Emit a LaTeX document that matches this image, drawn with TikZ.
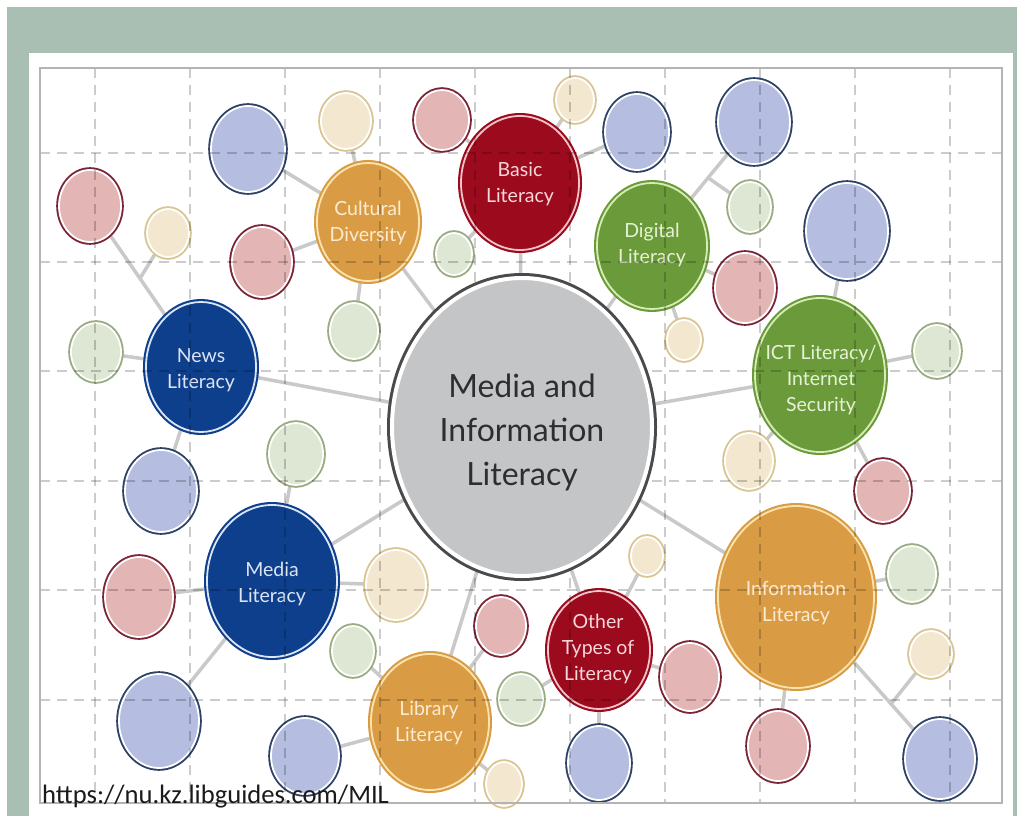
\documentclass[tikz,border=0pt]{standalone}
\usepackage{fontspec}
\setmainfont{Lato}
\newfontfamily\urlfont{Carlito}
\usetikzlibrary{shapes.geometric,backgrounds,calc}

\definecolor{bggreen}{HTML}{A9BFB3}
\definecolor{cgray}{HTML}{C4C5C7}
\definecolor{cdark}{HTML}{4A4A4A}
\definecolor{ctext}{HTML}{2E2E2E}
\definecolor{dred}{HTML}{9C0A1E}
\definecolor{dredring}{HTML}{F2C4C8}
\definecolor{dredtext}{HTML}{F6D7DA}
\definecolor{orng}{HTML}{D99C45}
\definecolor{orngring}{HTML}{FBE3AE}
\definecolor{orngtext}{HTML}{FCEBD0}
\definecolor{grn}{HTML}{6B9A3A}
\definecolor{grnring}{HTML}{D6ECB4}
\definecolor{grntext}{HTML}{E6F2D6}
\definecolor{navy}{HTML}{0E3F8C}
\definecolor{navyring}{HTML}{DCE6F6}
\definecolor{navytext}{HTML}{DCE4F4}
\definecolor{lrfill}{HTML}{E3B5B5}
\definecolor{lrline}{HTML}{7B2435}
\definecolor{lbfill}{HTML}{B5BDE0}
\definecolor{lbline}{HTML}{2D4266}
\definecolor{crfill}{HTML}{F4E7CF}
\definecolor{crline}{HTML}{D8C592}
\definecolor{lgfill}{HTML}{DDE7D3}
\definecolor{lgline}{HTML}{9AAB82}
\definecolor{link}{HTML}{C9C9C9}
\definecolor{framegray}{HTML}{B4B4B4}
\definecolor{urltext}{HTML}{1A1A1A}

\begin{document}
\begin{tikzpicture}[x=1pt,y=-1pt,
 rad/.style 2 args={minimum width={2*#1pt-6pt}, minimum height={2*#2pt-6pt}},
 sat/.style={ellipse, inner sep=0pt, fill=#1fill, draw=white, line width=1.8pt, preaction={draw=#1line, line width=5.6pt}},
 hub/.style={ellipse, inner sep=0pt, fill=#1, draw=#1ring, line width=1.8pt, preaction={draw=#1, line width=6pt}},
 lbl/.style={text=#1text, font=\fontsize{19.5}{26}\selectfont, align=center, inner sep=0pt},
 conn/.style={draw=link, line width=3.5pt},
 gridline/.style={draw=black, opacity=0.2, line width=1.2pt, dash pattern=on 10pt off 7pt},
]
\useasboundingbox (0,0) rectangle (1017,816);
\begin{pgfonlayer}{background}
\fill[bggreen] (7,7) rectangle (1017,816);
\fill[white] (29,53) rectangle (1013,816);
\end{pgfonlayer}

% hubs
\node[hub=dred, rad={62}{70}] (basic) at (520,183) {};
\node[hub=orng, rad={54}{62}] (cult) at (368,222) {};
\node[hub=grn, rad={58}{66}] (digi) at (652,246) {};
\node[hub=navy, rad={58}{68}] (news) at (201,367) {};
\node[hub=grn, rad={68}{80}] (ict) at (820,375) {};
\node[hub=navy, rad={68}{79}] (media) at (272,581) {};
\node[hub=orng, rad={62}{71}] (lib) at (430,722) {};
\node[hub=dred, rad={54}{62}] (other) at (599,650) {};
\node[hub=orng, rad={81}{94}] (info) at (796,597) {};

% satellites
\node[sat=lr, rad={34}{39}] (sa) at (90,206) {};
\node[sat=cr, rad={24}{27}] (sb) at (168,233) {};
\node[sat=lb, rad={40}{46}] (sc) at (248,149) {};
\node[sat=lr, rad={33}{38}] (sd) at (262,262) {};
\node[sat=cr, rad={28}{31}] (se) at (346,121) {};
\node[sat=lr, rad={30}{33}] (sf) at (442,120) {};
\node[sat=cr, rad={22}{25}] (sg) at (575,100) {};
\node[sat=lb, rad={35}{41}] (sh) at (637,132) {};
\node[sat=lg, rad={21}{24}] (si) at (454,254) {};
\node[sat=lb, rad={39}{45}] (sj) at (754,122) {};
\node[sat=lg, rad={24}{28}] (sk) at (750,207) {};
\node[sat=lb, rad={44}{51}] (sl) at (847,231) {};
\node[sat=lr, rad={33}{38}] (sm) at (745,288) {};
\node[sat=cr, rad={20}{23}] (sn) at (684,340) {};
\node[sat=lg, rad={26}{29}] (so) at (937,351) {};
\node[sat=cr, rad={27}{31}] (sp) at (749,461) {};
\node[sat=lr, rad={30}{34}] (sq) at (883,491) {};
\node[sat=lg, rad={27}{31}] (sr) at (912,574) {};
\node[sat=cr, rad={24}{26}] (ss) at (931,654) {};
\node[sat=lb, rad={38}{43}] (st) at (940,759) {};
\node[sat=lr, rad={33}{38}] (su) at (778,746) {};
\node[sat=lr, rad={32}{37}] (sv) at (690,677) {};
\node[sat=cr, rad={19}{22}] (sw) at (647,556) {};
\node[sat=lb, rad={34}{40}] (sx) at (599,763) {};
\node[sat=lg, rad={25}{28}] (sy) at (521,699) {};
\node[sat=lr, rad={28}{32}] (sz) at (501,626) {};
\node[sat=cr, rad={21}{25}] (saa) at (504,784) {};
\node[sat=cr, rad={33}{38}] (sbb) at (396,585) {};
\node[sat=lg, rad={24}{28}] (scc) at (353,651) {};
\node[sat=lb, rad={37}{41}] (sdd) at (305,756) {};
\node[sat=lb, rad={43}{50}] (see) at (159,721) {};
\node[sat=lr, rad={37}{43}] (sff) at (139,597) {};
\node[sat=lb, rad={39}{44}] (sgg) at (161,491) {};
\node[sat=lg, rad={28}{32}] (shh) at (96,352) {};
\node[sat=lg, rad={30}{34}] (sii) at (296,454) {};
\node[sat=lg, rad={27}{31}] (sjj) at (354,331) {};

% hub labels
\node[lbl=dred] (basic-t) at (520,184) {Basic\\Literacy};
\node[lbl=orng] (cult-t) at (368,223) {Cultural\\Diversity};
\node[lbl=grn] (digi-t) at (652,245) {Digital\\Literacy};
\node[lbl=navy] (news-t) at (201,370) {News\\Literacy};
\node[lbl=grn] (ict-t) at (821,380) {ICT Literacy/\\Internet\\Security};
\node[lbl=navy] (media-t) at (272,584) {Media\\Literacy};
\node[lbl=orng] (lib-t) at (429,723) {Library\\Literacy};
\node[lbl=dred] (other-t) at (598,649) {Other\\Types of\\Literacy};
\node[lbl=orng] (info-t) at (796,603) {Information\\Literacy};

% grid and frame
\foreach \gx in {95,190,285,380,475,570,665,760,855,950}
  \draw[gridline] (\gx,68) -- (\gx,803);
\foreach \gy in {153,262,371,481,590,700}
  \draw[gridline] (40,\gy) -- (1002,\gy);
\draw[framegray, line width=1.4pt] (40,68) rectangle (1002,803);

% central node
\node[ellipse, inner sep=0pt, fill=cgray, draw=white, line width=4pt,
      preaction={draw=cdark, line width=10pt},
      minimum width=260pt, minimum height=298pt] (central) at (522,427) {};
\node[text=ctext, font=\fontsize{32}{44}\selectfont, align=center, inner sep=0pt]
  (central-t) at (522,432) {Media and\\Information\\Literacy};

% connectors
\begin{pgfonlayer}{background}
\foreach \h in {basic,cult,digi,news,ict,media,lib,other,info}
  \draw[conn] (central) -- (\h);
\draw[conn] (cult) -- (sc);
\draw[conn] (cult) -- (sd);
\draw[conn] (cult) -- (se);
\draw[conn] (cult) -- (sjj);
\draw[conn] (basic) -- (sf);
\draw[conn] (basic) -- (sg);
\draw[conn] (basic) -- (sh);
\draw[conn] (basic) -- (si);
\draw[conn] (digi) -- (sj);
\coordinate (bk) at ($(digi)!0.55!(sj)$);
\draw[conn] (bk) -- (sk);
\draw[conn] (digi) -- (sm);
\draw[conn] (digi) -- (sn);
\draw[conn] (ict) -- (sl);
\draw[conn] (ict) -- (so);
\draw[conn] (ict) -- (sp);
\draw[conn] (ict) -- (sq);
\draw[conn] (news) -- (sa);
\coordinate (bb) at ($(sa)!0.45!(news)$);
\draw[conn] (bb) -- (sb);
\draw[conn] (news) -- (shh);
\draw[conn] (news) -- (sgg);
\draw[conn] (media) -- (sii);
\draw[conn] (media) -- (sff);
\draw[conn] (media) -- (see);
\draw[conn] (media) -- (sbb);
\draw[conn] (lib) -- (scc);
\draw[conn] (lib) -- (sdd);
\draw[conn] (lib) -- (sz);
\draw[conn] (lib) -- (saa);
\draw[conn] (other) -- (sw);
\draw[conn] (other) -- (sy);
\draw[conn] (other) -- (sv);
\draw[conn] (other) -- (sx);
\draw[conn] (info) -- (sr);
\draw[conn] (info) -- (su);
\draw[conn] (info) -- (st);
\coordinate (bs) at ($(info)!0.66!(st)$);
\draw[conn] (bs) -- (ss);
\end{pgfonlayer}

\node[anchor=base west, inner sep=0pt, text=urltext, font=\urlfont\fontsize{26.6}{31}\selectfont]
  (url) at (42,803) {https://nu.kz.libguides.com/MIL};
\end{tikzpicture}
\end{document}
